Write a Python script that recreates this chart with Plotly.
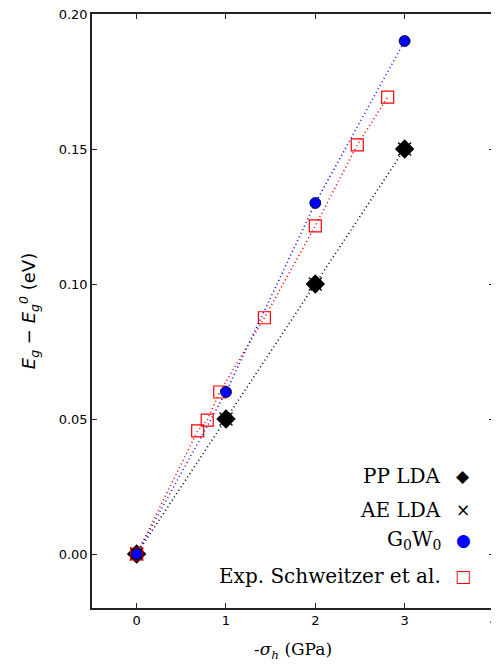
import plotly.graph_objects as go

# Data
pressure_calc = [0, 1, 2, 3]
pp_lda = [0.0, 0.05, 0.10, 0.15]
ae_lda = [0.0, 0.05, 0.10, 0.15]
g0w0 = [0.0, 0.06, 0.13, 0.19]
pressure_exp = [0.0, 0.683, 0.79, 0.93, 1.43, 2.0, 2.47, 2.81]
exp_schweitzer = [0.0, 0.0456, 0.0496, 0.0600, 0.0875, 0.1215, 0.1515, 0.1692]

legend_labels = ["PP LDA", "AE LDA", "G<sub>0</sub>W<sub>0</sub>", "Exp. Schweitzer et al."]

fig = go.Figure()

dotted = "1px,3px"
fig.add_trace(go.Scatter(x=pressure_calc, y=pp_lda, mode="lines+markers", name=legend_labels[0],
                         line=dict(color="black", dash=dotted, width=1.6),
                         marker=dict(symbol="diamond", size=15, color="black")))
fig.add_trace(go.Scatter(x=pressure_calc, y=ae_lda, mode="markers", name=legend_labels[1],
                         marker=dict(symbol="x-thin", size=13, line=dict(color="black", width=1.2))))
fig.add_trace(go.Scatter(x=pressure_exp, y=exp_schweitzer, mode="lines+markers", name=legend_labels[3],
                         line=dict(color="red", dash=dotted, width=1.6),
                         marker=dict(symbol="square-open", size=12, color="red", line=dict(width=1.2))))
fig.add_trace(go.Scatter(x=pressure_calc, y=g0w0, mode="lines+markers", name=legend_labels[2],
                         line=dict(color="blue", dash=dotted, width=1.6),
                         marker=dict(symbol="circle", size=11, color="blue", line=dict(color="black", width=0.8))))

serif = "DejaVu Serif, Liberation Serif, serif"

# Legend drawn as annotations: text on the left, key glyph on the right
rows_y = [0.222, 0.165, 0.1145, 0.054]
keys = ["<span style='color:black'>◆</span>",
        "<span style='color:black'>×</span>",
        "<span style='color:blue'>●</span>",
        "<span style='color:red'>□</span>"]
for lab, ky, yy in zip(legend_labels, keys, rows_y):
    fig.add_annotation(xref="paper", yref="paper", x=0.873, y=yy, text=lab, showarrow=False,
                       xanchor="right", yanchor="middle", font=dict(family=serif, size=20, color="black"))
    fig.add_annotation(xref="paper", yref="paper", x=0.923, y=yy, text=ky, showarrow=False,
                       xanchor="center", yanchor="middle", font=dict(family="DejaVu Sans", size=17))

axis_common = dict(showgrid=False, zeroline=False, showline=True, linecolor="#222", linewidth=1.5,
                   mirror="allticks", ticks="inside", ticklen=5, tickwidth=1.2, tickcolor="#222",
                   automargin=False, ticklabeloverflow="allow",
                   tickfont=dict(family="DejaVu Sans", size=13, color="black"))

# page body has an 8px margin, so the figure is sized to fit the window
fig.update_layout(
    width=491, height=658,
    margin=dict(l=84, r=5, t=6, b=58),
    plot_bgcolor="white", paper_bgcolor="white",
    showlegend=False,
    xaxis=dict(range=[-0.5, 4.0005], tickvals=[0, 1, 2, 3, 4], ticktext=["0", "1", "2", "3", "4"],
               title=dict(text="-<i>σ<sub>h</sub></i> (GPa)", font=dict(family=serif, size=17, color="black"),
                          standoff=16),
               **axis_common),
    yaxis=dict(range=[-0.02, 0.20], tickvals=[0, 0.05, 0.10, 0.15, 0.20],
               ticktext=["0.00", "0.05", "0.10", "0.15", "0.20"],
               title=dict(text="<i>E<sub>g</sub></i> − <i>E<sub>g</sub><sup>0</sup></i> (eV)",
                          font=dict(family="DejaVu Sans", size=18, color="black"), standoff=18),
               **axis_common),
)

fig.write_html("out.html")
